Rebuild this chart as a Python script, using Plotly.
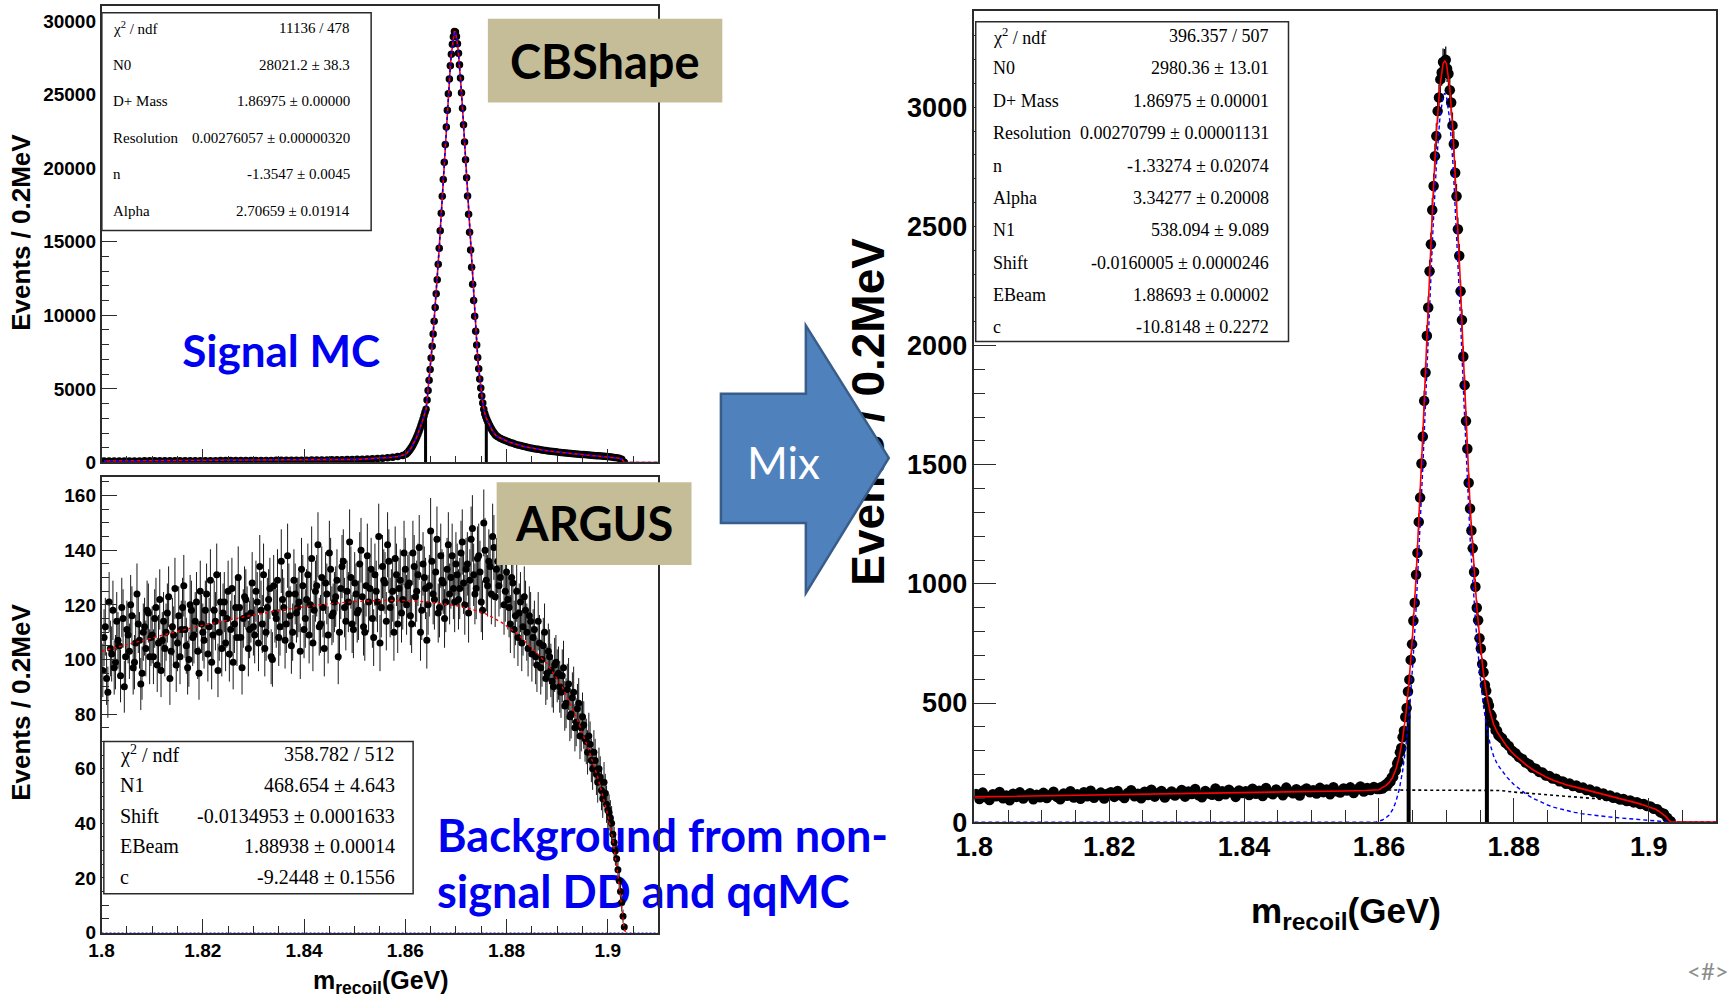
import numpy as np
import plotly.graph_objects as go

W, H = 1727, 999

# ---------------- Signal MC (Crystal Ball) histogram ----------------
SIG_LEFT_START, SIG_LEFT_STEP = 1.8005, 0.001
SIG_LEFT = [98, 99, 100, 101, 102, 103, 104, 105, 106, 107,
            108, 109, 110, 111, 112, 113, 114, 115, 117, 118,
            119, 120, 122, 123, 124, 126, 127, 129, 130, 132,
            134, 135, 137, 139, 141, 143, 145, 148, 150, 153,
            156, 159, 162, 166, 170, 174, 179, 185, 192, 200,
            210, 222, 236, 252, 270, 292, 318, 352, 400, 470]
SIG_CORE_START, SIG_CORE_STEP = 1.8601, 0.0002
SIG_CORE = [560, 620, 690, 770, 860, 960, 1070, 1190, 1320, 1460,
            1610, 1770, 1940, 2120, 2310, 2510, 2720, 2940, 3170, 3410,
            3620, 4240, 4895, 5585, 6320, 7090, 7900, 8720, 9590, 10520,
            11460, 12420, 13460, 14560, 15740, 16930, 18090, 19230, 20400, 21600,
            22790, 23940, 25050, 26060, 26960, 27740, 28420, 28930, 29280,
            29250, 28950, 28450, 27800, 27020, 26120, 25130, 24070, 22950, 21780,
            20570, 19340, 18100, 16860, 15640, 14440, 13260, 12110, 11000, 9930,
            8920, 7980, 7130, 6360, 5670, 5060, 4520, 4040, 3620,
            3300, 3100, 2920, 2760, 2610, 2470, 2340, 2220, 2110, 2010, 1920, 1830]
SIG_RIGHT_START, SIG_RIGHT_STEP = 1.87825, 0.0005
SIG_RIGHT = [1740, 1650, 1565, 1490, 1420, 1355, 1295, 1240, 1190, 1145,
             1100, 1060, 1020, 985, 950, 918, 888, 860, 833, 808,
             784, 761, 739, 718, 698, 679, 660, 642, 625, 608,
             592, 576, 561, 546, 531, 517, 503, 489, 475, 461,
             447, 432, 417, 401, 384, 365, 343, 317, 283, 215, 20]
SIG_FIT_TAIL_X = [1.9035, 1.910]
SIG_FIT_TAIL_Y = [0, 0]
SIG_SPIKE_X = [1.8640, 1.8760]
SIG_SPIKE_Y = [3550, 3500]

# ---------------- ARGUS background histogram (two interleaved bin sets) ----------------
BKG_START, BKG_STEP = 1.80025, 0.0005
BKG = [96, 112, 88, 104, 118, 99, 107, 94, 115, 101, 109, 120, 97, 106, 113, 91, 110, 104, 117, 108,
       101, 119, 106, 96, 114, 110, 123, 103, 109, 98, 116, 111, 127, 105, 100, 118, 109, 121, 95, 113,
       107, 124, 112, 99, 118, 131, 110, 104, 121, 115, 102, 126, 113, 108, 119, 97, 123, 116, 111, 128,
       109, 121, 134, 113, 104, 119, 126, 100, 117, 129, 112, 122, 107, 138, 116, 110, 124, 119, 103, 127,
       115, 131, 120, 106, 125, 142, 113, 119, 128, 109, 133, 117, 123, 101, 126, 136, 114, 121, 130, 111,
       124, 118, 140, 112, 127, 121, 133, 108, 125, 145, 119, 129, 114, 136, 122, 110, 131, 126, 117, 139,
       120, 128, 113, 134, 125, 141, 118, 130, 107, 127, 136, 122, 144, 119, 129, 115, 133, 124, 138, 121,
       131, 126, 143, 120, 135, 129, 148, 124, 137, 132, 118, 140, 127, 134, 145, 123, 136, 130, 141, 125,
       122, 113, 128, 116, 108, 121, 112, 118, 104, 114,
       108, 101, 114, 97, 105, 93, 103, 96, 90, 99,
       95, 88, 97, 84, 91, 80, 88, 77, 84, 75,
       76, 70, 72, 63, 66, 58, 60, 52, 55, 47,
       44, 40, 33, 27, 19, 11, 2]
BKG_ODD_START, BKG_ODD_STEP = 1.8005, 0.0005
BKG_ODD = [108, 93, 121, 102, 97, 114, 105, 119, 90, 111, 103, 116, 99, 124, 107, 95, 112, 118, 101, 109,
           115, 98, 122, 107, 104, 117, 93, 112, 126, 106, 101, 119, 111, 97, 120, 108, 114, 103, 125, 110,
           118, 102, 129, 109, 114, 96, 121, 117, 106, 125, 111, 99, 119, 130, 108, 115, 122, 104, 117, 112,
           125, 106, 118, 131, 110, 122, 101, 127, 115, 108, 136, 119, 113, 124, 105, 129, 117, 121, 133, 111,
           122, 109, 137, 118, 127, 112, 130, 104, 124, 139, 116, 121, 129, 110, 134, 119, 125, 143, 113, 128,
           117, 135, 123, 110, 138, 126, 115, 131, 121, 106, 134, 128, 142, 119, 125, 137, 113, 129, 122, 133,
           127, 116, 139, 123, 131, 110, 135, 126, 120, 147, 124, 132, 117, 138, 128, 121, 142, 130, 126, 135,
           122, 139, 128, 133, 117, 144, 131, 126, 138, 121, 150, 129, 136, 124, 141, 133, 127, 139, 120, 132,
           119, 130, 111, 125, 117, 106, 123, 110, 116, 102,
           111, 98, 106, 100, 110, 95, 101, 92, 98, 94,
           90, 94, 83, 89, 79, 86, 75, 82, 72, 79,
           71, 66, 69, 60, 63, 55, 57, 49, 51, 45,
           42, 36, 30, 23, 15, 6]
BKG_FIT_X = [1.800, 1.805, 1.810, 1.815, 1.820, 1.825, 1.830, 1.835, 1.840, 1.845,
             1.850, 1.855, 1.860, 1.865, 1.870, 1.873, 1.876, 1.879, 1.882, 1.885,
             1.888, 1.891, 1.894, 1.896, 1.898, 1.900, 1.901, 1.902, 1.9027, 1.9032, 1.9035]
BKG_FIT_Y = [103, 105.5, 108, 110.3, 112.5, 114.5, 116.3, 117.9, 119.3, 120.4,
             121.2, 121.6, 121.6, 121.0, 119.7, 118.5, 116.6, 113.6, 109.6, 104.2,
             98.5, 90, 78, 68, 57, 43, 34, 21, 9, 2, 0]
BKG_SIGFIT_X = [1.800, 1.910]
BKG_SIGFIT_Y = [0, 0]

# ---------------- Mixed sample histogram ----------------
MIX_LEFT_START, MIX_LEFT_STEP = 1.80025, 0.0005
MIX_LEFT = [118, 97, 124, 104, 93, 117, 109, 127, 100, 112, 92, 119, 106, 125, 99, 113, 121, 96, 115, 104,
            123, 101, 114, 128, 106, 96, 120, 111, 130, 103, 117, 98, 126, 109, 132, 102, 115, 124, 99, 119,
            126, 106, 131, 112, 101, 122, 134, 109, 119, 100, 128, 114, 136, 107, 122, 131, 103, 118, 129, 112,
            121, 135, 107, 129, 118, 139, 113, 104, 131, 120, 115, 141, 110, 130, 117, 136, 124, 106, 133, 122,
            130, 114, 140, 119, 132, 110, 143, 124, 117, 137, 127, 113, 145, 129, 121, 138, 112, 133, 141, 125,
            134, 120, 144, 126, 137, 117, 147, 130, 124, 141, 133, 146, 122, 138, 150, 129, 143, 135, 148, 139]
MIX_CORE_START, MIX_CORE_STEP = 1.8601, 0.0002
MIX_CORE = [139, 147, 141, 152, 149, 160, 158, 171, 170, 188,
            190, 212, 218, 246, 257, 293, 311, 356, 384, 441,
            479, 548, 598, 681, 747, 845, 921, 1038, 1130, 1260,
            1362, 1505, 1618, 1768, 1887, 2041, 2160, 2312, 2425, 2569,
            2670, 2795, 2879, 2984, 3041, 3117, 3146, 3190, 3188,
            3199, 3162, 3141, 3072, 3020, 2924, 2846, 2725, 2627, 2488,
            2377, 2228, 2107, 1954, 1834, 1683, 1567, 1424, 1316, 1224,
            1149, 1050, 988, 900, 847, 772, 729, 664, 629, 576,
            551, 507, 490, 454, 445, 414, 409, 385, 384, 366, 360]
MIX_RIGHT_START, MIX_RIGHT_STEP = 1.87825, 0.0005
MIX_RIGHT = [352, 333, 320, 300, 289, 273, 265, 250, 243, 228,
             224, 211, 208, 196, 194, 183, 182, 172, 171, 161,
             162, 152, 154, 144, 145, 135, 137, 127, 129, 118,
             120, 110, 112, 102, 103, 95, 97, 89, 91, 83,
             84, 76, 76, 68, 66, 56, 54, 41, 35, 18, 4]
MIX_SPIKE_X = [1.8644, 1.8760]
MIX_SPIKE_Y = [513, 510]

MIX_TOTAL_X = [1.800, 1.805, 1.810, 1.815, 1.820, 1.825, 1.830, 1.835, 1.840, 1.845,
               1.850, 1.855, 1.858, 1.860, 1.8605, 1.861, 1.8615, 1.862, 1.8625, 1.863,
               1.8635, 1.864, 1.8645, 1.865, 1.8655, 1.866, 1.8665, 1.867, 1.8675, 1.868,
               1.8685, 1.869, 1.8695, 1.86975, 1.870, 1.8705, 1.871, 1.8715, 1.872, 1.8725,
               1.873, 1.8735, 1.874, 1.8745, 1.875, 1.8755, 1.876, 1.8765, 1.877, 1.8775,
               1.878, 1.879, 1.880, 1.881, 1.882, 1.883, 1.884, 1.885, 1.886, 1.887,
               1.888, 1.889, 1.890, 1.891, 1.892, 1.893, 1.894, 1.895, 1.896, 1.897,
               1.898, 1.899, 1.900, 1.901, 1.9015, 1.902, 1.9025, 1.903, 1.9033, 1.910]
MIX_TOTAL_Y = [106, 108, 110, 112, 114, 116, 119, 121, 123, 126,
               128, 131, 133, 136, 145, 153, 166, 187, 221, 273,
               349, 457, 604, 793, 1030, 1309, 1626, 1963, 2303, 2619,
               2887, 3081, 3183, 3196, 3183, 3081, 2887, 2619, 2303, 1962,
               1625, 1330, 1110, 907, 750, 623, 528, 460, 411, 380,
               358, 316, 284, 258, 236, 217, 200, 186, 174, 164,
               155, 148, 141, 134, 127, 120, 112, 104, 96, 89,
               82, 74, 65, 54, 46, 36, 24, 8, 0, 0]
MIX_SIG_X = [1.800, 1.8595, 1.8605, 1.861, 1.8615, 1.862, 1.8625, 1.863, 1.8635, 1.864,
             1.8645, 1.865, 1.8655, 1.866, 1.8665, 1.867, 1.8675, 1.868, 1.8685, 1.869,
             1.8695, 1.86975, 1.870, 1.8705, 1.871, 1.8715, 1.872, 1.8725, 1.873, 1.8735,
             1.874, 1.8745, 1.875, 1.8755, 1.876, 1.8765, 1.877, 1.8775, 1.878, 1.879,
             1.880, 1.881, 1.882, 1.883, 1.884, 1.885, 1.886, 1.887, 1.888, 1.889,
             1.890, 1.892, 1.894, 1.896, 1.898, 1.900, 1.902, 1.9033, 1.910]
MIX_SIG_Y = [0, 0, 9, 17, 30, 51, 85, 137, 213, 321,
             468, 657, 894, 1173, 1490, 1827, 2167, 2483, 2751, 2945,
             3047, 3060, 3047, 2945, 2751, 2483, 2167, 1827, 1490, 1195,
             975, 772, 615, 488, 393, 325, 277, 246, 225, 188,
             158, 134, 114, 98, 84, 72, 62, 54, 47, 41,
             36, 28, 22, 17, 13, 9, 5, 0, 0]
MIX_BKG_X = [1.800, 1.820, 1.840, 1.850, 1.855, 1.860, 1.865, 1.870, 1.875, 1.878,
             1.880, 1.882, 1.884, 1.886, 1.888, 1.890, 1.892, 1.894, 1.896, 1.898,
             1.900, 1.901, 1.902, 1.9033, 1.910]
MIX_BKG_Y = [106, 114, 123, 128, 131, 135, 135, 135, 134, 133,
             126, 122, 116, 112, 108, 105, 99, 90, 79, 69,
             56, 45, 31, 0, 0]

# ---------------- fit result boxes ----------------
SIG_STATS = [("χ<sup>2</sup> / ndf", "11136 / 478"), ("N0", "28021.2 ± 38.3"),
             ("D+ Mass", "1.86975 ± 0.00000"), ("Resolution", "0.00276057 ± 0.00000320"),
             ("n", "-1.3547 ± 0.0045"), ("Alpha", "2.70659 ± 0.01914")]
BKG_STATS = [("χ<sup>2</sup> / ndf", "358.782 / 512"), ("N1", "468.654 ± 4.643"),
             ("Shift", "-0.0134953 ± 0.0001633"), ("EBeam", "1.88938 ± 0.00014"),
             ("c", "-9.2448 ± 0.1556")]
MIX_STATS = [("χ<sup>2</sup> / ndf", "396.357 / 507"), ("N0", "2980.36 ± 13.01"),
             ("D+ Mass", "1.86975 ± 0.00001"), ("Resolution", "0.00270799 ± 0.00001131"),
             ("n", "-1.33274 ± 0.02074"), ("Alpha", "3.34277 ± 0.20008"),
             ("N1", "538.094 ± 9.089"), ("Shift", "-0.0160005 ± 0.0000246"),
             ("EBeam", "1.88693 ± 0.00002"), ("c", "-10.8148 ± 0.2272")]

SANS = "Liberation Sans, Arial, Helvetica, sans-serif"
SERIF = "Liberation Serif, Times New Roman, serif"
SLIDE = "Lato, Calibri, sans-serif"
BLUE = "#0000F0"
TAN = "#C4BD97"
FRAME = "#2b2b2b"

# layout positions below are given in page pixels; these constants map them
# onto the drawing surface of the exported page
OX, SX, SY = 17.6, 0.9897, 0.983


def fx(p):
    return (p - OX) / SX / W


def fy(p):
    return 1 - p / SY / H


def centers(start, step, n):
    return start + step * np.arange(n)


def spikes(xs, hs):
    X, Y = [], []
    for x, h in zip(xs, hs):
        X += [x, x, None]
        Y += [0, h, None]
    return X, Y


fig = go.Figure()

# ---- slide captions on a full-page layer underneath the histograms ----
fig.add_trace(go.Scatter(x=[280], y=[355], mode="text", text=["<b>Signal MC</b>"],
                         textposition="middle center", hoverinfo="skip",
                         textfont=dict(family=SLIDE, size=44, color=BLUE),
                         xaxis="x", yaxis="y"))
fig.add_trace(go.Scatter(x=[436, 436], y=[839, 895], mode="text",
                         text=["<b>Background from non-</b>", "<b>signal DD and qqMC</b>"],
                         textposition="middle right", hoverinfo="skip",
                         textfont=dict(family=SLIDE, size=45, color=BLUE),
                         xaxis="x", yaxis="y"))

# ---- panel 1: signal MC ----
sx = np.concatenate([centers(SIG_LEFT_START, SIG_LEFT_STEP, len(SIG_LEFT)),
                     centers(SIG_CORE_START, SIG_CORE_STEP, len(SIG_CORE)),
                     centers(SIG_RIGHT_START, SIG_RIGHT_STEP, len(SIG_RIGHT))])
sy = np.array(SIG_LEFT + SIG_CORE + SIG_RIGHT, dtype=float)
fig.add_trace(go.Scatter(x=sx, y=sy, mode="markers", xaxis="x2", yaxis="y2",
                         marker=dict(size=7.5, color="black"),
                         error_y=dict(type="data", array=np.sqrt(sy), thickness=1, width=0, color="black")))
kx, ky = spikes(SIG_SPIKE_X, SIG_SPIKE_Y)
fig.add_trace(go.Scatter(x=kx, y=ky, mode="lines", xaxis="x2", yaxis="y2",
                         line=dict(color="black", width=3)))
fx_sig = np.concatenate([sx, SIG_FIT_TAIL_X])
fy_sig = np.concatenate([sy, SIG_FIT_TAIL_Y])
fig.add_trace(go.Scatter(x=fx_sig, y=fy_sig, mode="lines", xaxis="x2", yaxis="y2",
                         line=dict(color="#FF0000", width=1.6)))
fig.add_trace(go.Scatter(x=fx_sig, y=fy_sig, mode="lines", xaxis="x2", yaxis="y2",
                         line=dict(color="#0000FF", width=1.6, dash="3px,3px")))

# ---- panel 2: ARGUS background ----
bx = np.concatenate([centers(BKG_START, BKG_STEP, len(BKG)),
                     centers(BKG_ODD_START, BKG_ODD_STEP, len(BKG_ODD))])
by = np.array(BKG + BKG_ODD, dtype=float)
order = np.argsort(bx)
bx, by = bx[order], by[order]
fig.add_trace(go.Scatter(x=bx, y=by, mode="markers", xaxis="x3", yaxis="y3",
                         marker=dict(size=7, color="black"),
                         error_y=dict(type="data", array=np.sqrt(by), thickness=1, width=0, color="#1a1a1a")))
fig.add_trace(go.Scatter(x=BKG_SIGFIT_X, y=BKG_SIGFIT_Y, mode="lines", xaxis="x3", yaxis="y3",
                         line=dict(color="#0000FF", width=1.3, dash="2px,2px")))
fig.add_trace(go.Scatter(x=BKG_FIT_X, y=BKG_FIT_Y, mode="lines", xaxis="x3", yaxis="y3",
                         line=dict(color="#FF0000", width=1.4, dash="3px,3px")))

# ---- panel 3: signal + background ----
mx = np.concatenate([centers(MIX_LEFT_START, MIX_LEFT_STEP, len(MIX_LEFT)),
                     centers(MIX_CORE_START, MIX_CORE_STEP, len(MIX_CORE)),
                     centers(MIX_RIGHT_START, MIX_RIGHT_STEP, len(MIX_RIGHT))])
my = np.array(MIX_LEFT + MIX_CORE + MIX_RIGHT, dtype=float)
fig.add_trace(go.Scatter(x=mx, y=my, mode="markers", xaxis="x4", yaxis="y4",
                         marker=dict(size=10.5, color="black"),
                         error_y=dict(type="data", array=np.sqrt(my), thickness=1.2, width=0, color="black")))
kx, ky = spikes(MIX_SPIKE_X, MIX_SPIKE_Y)
fig.add_trace(go.Scatter(x=kx, y=ky, mode="lines", xaxis="x4", yaxis="y4",
                         line=dict(color="black", width=4)))
fig.add_trace(go.Scatter(x=MIX_BKG_X, y=MIX_BKG_Y, mode="lines", xaxis="x4", yaxis="y4",
                         line=dict(color="black", width=1.6, dash="3px,3px")))
fig.add_trace(go.Scatter(x=MIX_SIG_X, y=MIX_SIG_Y, mode="lines", xaxis="x4", yaxis="y4",
                         line=dict(color="#0000FF", width=1.4, dash="4px,3px")))
fig.add_trace(go.Scatter(x=MIX_TOTAL_X, y=MIX_TOTAL_Y, mode="lines", xaxis="x4", yaxis="y4",
                         line=dict(color="#FF0000", width=1.6)))


def xaxis(domain, anchor, ticklen, minorlen, labels, size):
    return dict(domain=domain, anchor=anchor, range=[1.8, 1.91], tick0=1.8, dtick=0.02,
                ticks="inside", ticklen=ticklen, tickwidth=1.3, tickcolor=FRAME,
                minor=dict(ticks="inside", ticklen=minorlen, tickwidth=1.1, tickcolor=FRAME,
                           tick0=1.8, dtick=0.005, showgrid=False),
                showticklabels=labels,
                tickfont=dict(family=SANS, size=size, color="black", weight="bold"),
                showline=True, linecolor=FRAME, linewidth=1.5, mirror=True,
                showgrid=False, zeroline=False, fixedrange=True)


def yaxis(domain, anchor, top, dtick, minor, ticklen, minorlen, size):
    return dict(domain=domain, anchor=anchor, range=[0, top], tick0=0, dtick=dtick, tickformat="d",
                ticks="inside", ticklen=ticklen, tickwidth=1.3, tickcolor=FRAME,
                minor=dict(ticks="inside", ticklen=minorlen, tickwidth=1.1, tickcolor=FRAME,
                           tick0=0, dtick=minor, showgrid=False),
                tickfont=dict(family=SANS, size=size, color="black", weight="bold"),
                showline=True, linecolor=FRAME, linewidth=1.5, mirror=True,
                showgrid=False, zeroline=False, fixedrange=True)


A_X, A_Y = [fx(100.2), fx(657.5)], [fy(461.5), fy(5.5)]
B_X, B_Y = [fx(100.2), fx(657.5)], [fy(930.7), fy(475.8)]
C_X, C_Y = [fx(973.6), fx(1716.0)], [fy(820.5), fy(11.0)]

layout = dict(
    width=W, height=H, autosize=False, margin=dict(l=0, r=0, t=0, b=0),
    paper_bgcolor="white", plot_bgcolor="rgba(0,0,0,0)", showlegend=False,
    xaxis=dict(domain=[0, 1], range=[OX, OX + SX * W], visible=False, fixedrange=True),
    yaxis=dict(domain=[0, 1], range=[SY * H, 0], anchor="free", position=fx(892),
               showline=False, showgrid=False, zeroline=False, ticks="",
               tickmode="array", tickvals=[418], ticktext=["Events / 0.2MeV"], tickangle=-90,
               tickfont=dict(family=SANS, size=46, color="black", weight="bold"), fixedrange=True),
    xaxis2=xaxis(A_X, "y2", 14, 7, False, 19),
    yaxis2=yaxis(A_Y, "x2", 31050, 5000, 1000, 16, 8, 19),
    xaxis3=xaxis(B_X, "y3", 14, 7, True, 19),
    yaxis3=yaxis(B_Y, "x3", 166.9, 20, 5, 16, 8, 19),
    xaxis4=xaxis(C_X, "y4", 24, 12, True, 27),
    yaxis4=yaxis(C_Y, "x4", 3404, 500, 100, 22, 11, 27),
)

shapes = []
annotations = []


def note(x, y, s, size, family=SANS, color="black", xanchor="center", angle=0, bold=False):
    annotations.append(dict(x=fx(x), y=fy(y), xref="paper", yref="paper", text=s, showarrow=False,
                            xanchor=xanchor, yanchor="middle", textangle=angle,
                            font=dict(family=family, size=size, color=color,
                                      weight="bold" if bold else "normal")))


def rect(x0, y0, x1, y1, fill, line_color=None, line_width=0):
    shapes.append(dict(type="rect", xref="paper", yref="paper", layer="above",
                       x0=fx(x0), x1=fx(x1), y0=fy(y1), y1=fy(y0), fillcolor=fill,
                       line=dict(color=line_color or fill, width=line_width)))


def stats_box(rows, box, label_x, value_x, y0, dy, size):
    rect(*box, "white", FRAME, 1.5)
    for i, (lab, val) in enumerate(rows):
        y = y0 + dy * i
        note(label_x, y, lab, size, family=SERIF, xanchor="left")
        note(value_x, y, val, size, family=SERIF, xanchor="right")


stats_box(SIG_STATS, (100.5, 12.7, 370, 230), 110, 351, 28, 36.5, 15)
stats_box(BKG_STATS, (102.5, 740, 412, 892), 117, 395.5, 752.8, 30.6, 20)
stats_box(MIX_STATS, (975, 21.7, 1288, 340.7), 990, 1270, 36, 32.3, 18)

# axis titles
note(20, 232, "Events / 0.2MeV", 26, angle=-90, bold=True)
note(20, 701, "Events / 0.2MeV", 26, angle=-90, bold=True)
note(380, 980, "m<sub>recoil</sub>(GeV)", 25, bold=True)
note(1346, 911, "m<sub>recoil</sub>(GeV)", 35, bold=True)

# model tags
rect(486.8, 18.7, 721.4, 102.4, TAN)
note(603.6, 61, "<b>CBShape</b>", 47, family=SLIDE)
rect(495.6, 481.3, 690.6, 563.9, TAN)
note(592.6, 522, "<b>ARGUS</b>", 47, family=SLIDE)

# "Mix" block arrow
pts = [(720, 393), (805, 393), (805, 325), (888, 457), (805, 592), (805, 522), (720, 522)]
path = "M " + " L ".join(f"{fx(x):.5f},{fy(y):.5f}" for x, y in pts) + " Z"
shapes.append(dict(type="path", path=path, xref="paper", yref="paper", layer="above",
                   fillcolor="#4F81BD", line=dict(color="#385D8A", width=2.5)))
note(783, 461, "Mix", 44, family=SLIDE, color="white")

# slide number placeholder
note(1685, 969, "&lt;#&gt;", 24, family=SLIDE, color="#8C8C8C", xanchor="left")

layout["shapes"] = shapes
layout["annotations"] = annotations
fig.update_layout(**layout)

fig.write_html("out.html", include_plotlyjs=True, config={"displayModeBar": False})
